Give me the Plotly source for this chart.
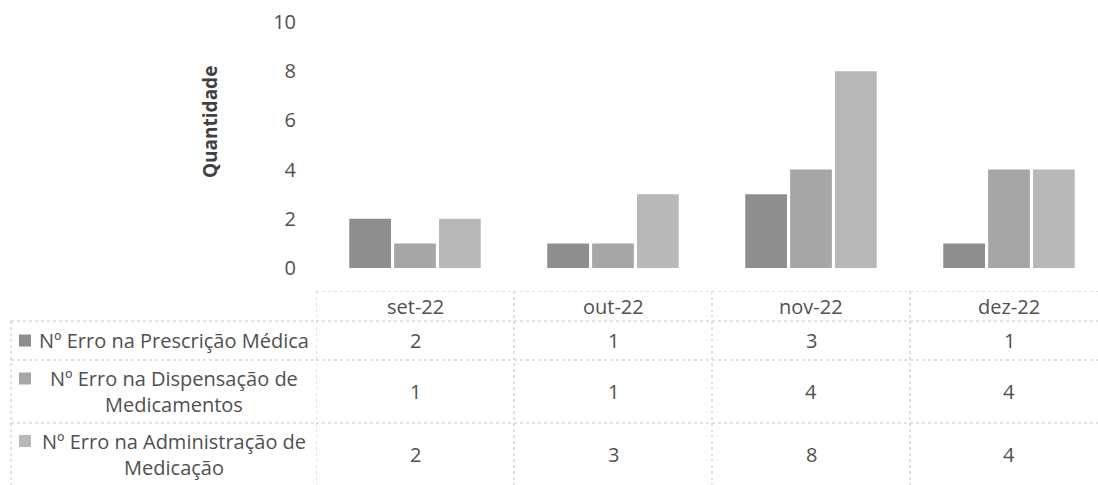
import plotly.graph_objects as go

meses = ['set-22', 'out-22', 'nov-22', 'dez-22']
series = ['Nº Erro na Prescrição Médica',
          'Nº Erro na Dispensação de<br>Medicamentos',
          'Nº Erro na Administração de<br>Medicação']
prescricao = [2, 1, 3, 1]
dispensacao = [1, 1, 4, 4]
administracao = [2, 3, 8, 4]
yticks = [0, 2, 4, 6, 8, 10]

valores = [prescricao, dispensacao, administracao]
cores = ['#8e8e8e', '#a6a6a6', '#b8b8b8']
fonte = dict(family='Open Sans', size=20, color='#505050')

W, H = 1098, 485
L, T = 316, 22
pw = W - L
cat_w = 198

def px(x):
    # page x pixel -> paper coordinate
    return (x - L) / pw

fig = go.Figure()
for nome, vals, cor in zip(series, valores, cores):
    fig.add_trace(go.Bar(x=list(range(len(meses))), y=vals, name=nome,
                         marker=dict(color=cor, line=dict(width=0)),
                         showlegend=False))

# table geometry (pixels below table top, table top at y=291)
tab_top = 291
rows = [0, 30, 69, 132, 194]
y2span = H - tab_top

shapes = []
line = dict(color='#c4c4c4', width=1, dash='dot')
for r in rows[:4]:
    shapes.append(dict(type='line', xref='x', yref='y2', x0=-0.5, x1=3.5,
                       y0=r, y1=r, line=line))
for r in rows[1:4]:
    shapes.append(dict(type='line', xref='paper', yref='y2', x0=px(11), x1=0,
                       y0=r, y1=r, line=line))
shapes.append(dict(type='line', xref='paper', yref='y2', x0=px(11), x1=px(11),
                   y0=rows[1], y1=rows[4], line=line))
for i in range(len(meses) + 1):
    shapes.append(dict(type='line', xref='x', yref='y2', x0=i - 0.5, x1=i - 0.5,
                       y0=0, y1=rows[4], line=line))

annotations = []
for i, m in enumerate(meses):
    annotations.append(dict(x=i, y=(rows[0] + rows[1]) / 2, xref='x', yref='y2',
                            text=m, showarrow=False, font=fonte,
                            xanchor='center', yanchor='middle'))
for k, vals in enumerate(valores):
    yc = (rows[k + 1] + rows[k + 2]) / 2
    for i, v in enumerate(vals):
        annotations.append(dict(x=i, y=yc, xref='x', yref='y2', text=str(v),
                                showarrow=False, font=fonte,
                                xanchor='center', yanchor='middle'))
    annotations.append(dict(x=px(174), y=yc, xref='paper', yref='y2',
                            text=series[k], showarrow=False, font=fonte,
                            align='center', xanchor='center', yanchor='middle'))
    ky = yc - (0 if k == 0 else 13)
    shapes.append(dict(type='rect', xref='paper', yref='y2',
                       x0=px(19), x1=px(31), y0=ky - 6, y1=ky + 6,
                       fillcolor=cores[k], line=dict(width=0)))

annotations.append(dict(x=px(210), y=1 - (122 - T) / 246, xref='paper', yref='paper',
                        text='<b>Quantidade</b>', textangle=-90, showarrow=False,
                        font=dict(family='Open Sans', size=19, color='#404040'),
                        xanchor='center', yanchor='middle'))

plot_h = H - T
fig.update_layout(
    width=W, height=H,
    margin=dict(l=L, r=0, t=T, b=0, autoexpand=False),
    paper_bgcolor='white', plot_bgcolor='white',
    barmode='group', bargap=0.32, bargroupgap=0.07,
    font=fonte,
    xaxis=dict(range=[-0.5, -0.5 + pw / cat_w], showticklabels=False, showgrid=False,
               zeroline=False, showline=False, ticks='', automargin=False),
    yaxis=dict(domain=[1 - 246 / plot_h, 1], range=[0, 10], tickvals=yticks,
               showgrid=False, zeroline=False, showline=False,
               ticklabelstandoff=19, tickfont=fonte, automargin=False),
    yaxis2=dict(domain=[0, y2span / plot_h], range=[y2span, 0], anchor='x',
                visible=False),
    shapes=shapes,
    annotations=annotations,
)
# the title annotation uses paper y relative to the bar axis domain
ydom = fig.layout.yaxis.domain
annotations[-1]['y'] = ydom[0] + (ydom[1] - ydom[0]) * (1 - (122 - T) / 246)
fig.update_layout(annotations=annotations)

# dummy trace so yaxis2 exists
fig.add_trace(go.Scatter(x=[0], y=[0], yaxis='y2', mode='markers',
                         marker=dict(opacity=0), showlegend=False, hoverinfo='skip'))

fig.write_html('out.html', config={'displayModeBar': False},
               post_script="document.body.style.margin='0';")
